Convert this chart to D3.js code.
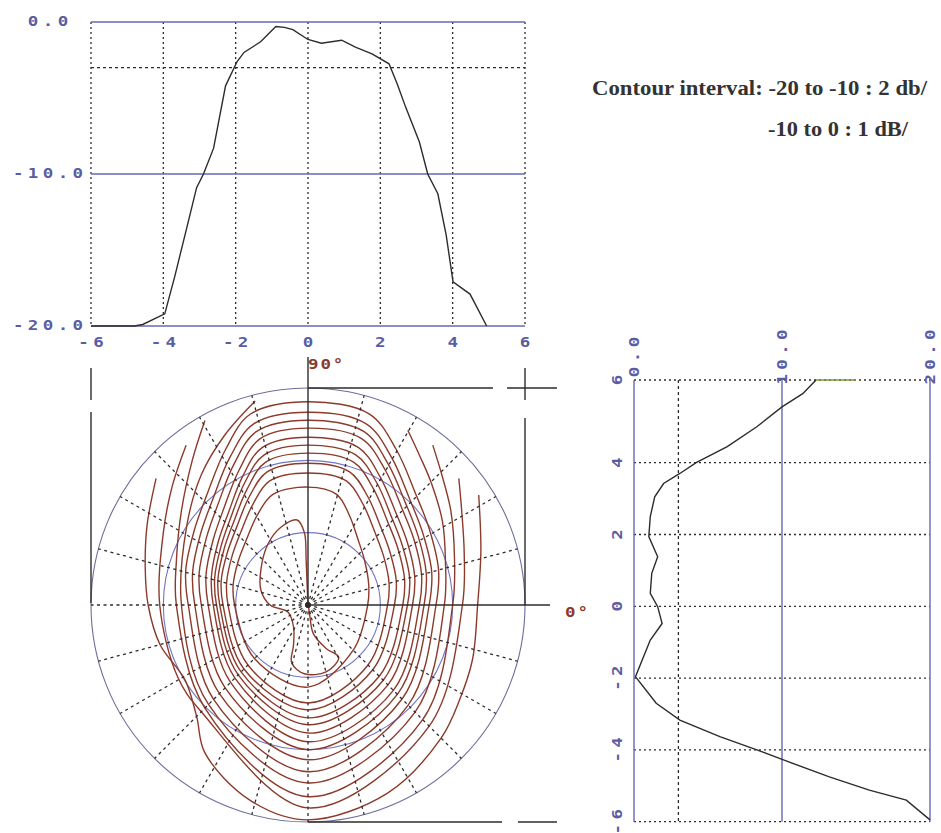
<!DOCTYPE html>
<html>
<head>
<meta charset="utf-8">
<script src="https://cdn.jsdelivr.net/npm/d3@7"></script>
<style>
  body { margin: 0; background: #fff; }
  svg { display: block; }
</style>
</head>
<body>
<svg id="chart" width="941" height="833"></svg>
<script>
// ---- Horizontal cut (top panel): offset vs relative level, dB ----
const hCutX  = [-6, -4.80, -4.57, -3.96, -3.68, -3.40, -3.08, -2.89, -2.61, -2.28, -1.96, -1.77, -1.31, -0.89, -0.65, -0.42, 0, 0.37, 0.93, 1.31, 1.77, 2.24, 2.47, 2.70, 3.08, 3.31, 3.59, 3.82, 4.01, 4.48, 4.94];
const hCutDb = [-20, -20, -19.9, -19.2, -16.7, -14.0, -10.9, -10.0, -8.3, -4.2, -2.6, -2.0, -1.3, -0.3, -0.35, -0.5, -1.15, -1.4, -1.2, -1.65, -2.1, -2.75, -4.1, -5.6, -7.9, -10.0, -11.3, -14.0, -17.1, -17.9, -20];
const hTicks = [-6, -4, -2, 0, 2, 4, 6];
const hDbTicks = [0, -10, -20];

// ---- Vertical cut (right panel): offset vs attenuation, dB ----
const vCutPos = [6, 6, 5.67, 5.35, 4.87, 4.39, 4.0, 3.70, 3.42, 3.05, 2.50, 1.94, 1.38, 0.92, 0.36, -0.01, -0.48, -0.94, -1.96, -2.70, -3.17, -3.63, -4.0, -4.28, -4.75, -5.12, -5.40, -5.95];
const vCutAtt = [15.0, 12.3, 11.4, 10.0, 8.3, 6.3, 4.2, 3.1, 2.0, 1.4, 1.1, 1.0, 1.6, 1.2, 1.1, 1.6, 1.9, 1.1, 0.1, 1.5, 3.1, 5.8, 8.3, 10.1, 13.2, 15.9, 18.4, 20.0];
const vPosTicks = [6, 4, 2, 0, -2, -4, -6];
const vAttTicks = [0, 10, 20];

// ---- Contour map: level (dB) and traced outline points [x, y] ----
const contourLevels = [-1, -2, -3, -4, -5, -6, -7, -8, -9, -10, -12, -14, -16, -18, -20];
const contourClosed = [true, true, true, true, true, true, true, true, true, true, true, false, false, false, false];
const contourPoints = [
  [[0.0,0.1],[-0.05,1.2],[-0.1,2.0],[-0.3,2.35],[-0.75,2.15],[-1.1,1.7],[-1.3,1.0],[-1.3,0.4],[-1.05,0.0],[-0.55,-0.2],[-0.4,-0.6],[-0.4,-1.1],[-0.45,-1.6],[-0.1,-1.9],[0.5,-1.85],[0.85,-1.45],[0.5,-1.2],[0.15,-0.8],[0.05,-0.3]],
  [[1.65,0],[1.68,0.55],[1.57,1.21],[1.39,1.79],[1.14,2.49],[0.79,3.06],[0,3.26],[-0.97,3.06],[-1.40,2.49],[-1.71,1.79],[-1.93,1.21],[-2.07,0.55],[-2.03,0],[-1.48,-1.48],[0,-2.27],[1.25,-1.25]],
  [[2.20,0],[2.24,0.62],[2.09,1.35],[1.85,2.01],[1.52,2.79],[1.06,3.43],[0,3.65],[-1.06,3.43],[-1.52,2.79],[-1.86,2.01],[-2.10,1.35],[-2.25,0.62],[-2.21,0],[-1.66,-1.66],[0,-2.71],[1.66,-1.66]],
  [[2.39,0],[2.44,0.67],[2.27,1.45],[2.01,2.16],[1.65,3.00],[1.15,3.68],[0,3.92],[-1.13,3.68],[-1.62,3.00],[-1.97,2.16],[-2.23,1.45],[-2.40,0.67],[-2.35,0],[-1.77,-1.77],[0,-2.90],[1.79,-1.79]],
  [[2.62,0],[2.67,0.71],[2.49,1.55],[2.20,2.31],[1.81,3.21],[1.26,3.95],[0,4.20],[-1.17,3.95],[-1.68,3.21],[-2.05,2.31],[-2.32,1.55],[-2.49,0.71],[-2.44,0],[-1.85,-1.85],[0,-3.12],[1.97,-1.97]],
  [[2.75,0],[2.81,0.75],[2.61,1.64],[2.31,2.43],[1.90,3.38],[1.32,4.15],[0,4.42],[-1.21,4.15],[-1.75,3.38],[-2.13,2.43],[-2.40,1.64],[-2.58,0.75],[-2.53,0],[-1.93,-1.93],[0,-3.31],[2.08,-2.08]],
  [[2.89,0],[2.95,0.79],[2.75,1.72],[2.43,2.55],[1.99,3.55],[1.39,4.36],[0,4.64],[-1.26,4.36],[-1.81,3.55],[-2.20,2.55],[-2.49,1.72],[-2.67,0.79],[-2.62,0],[-2.02,-2.02],[0,-3.54],[2.21,-2.21]],
  [[3.08,0],[3.14,0.83],[2.93,1.81],[2.59,2.69],[2.13,3.74],[1.48,4.60],[0,4.89],[-1.32,4.60],[-1.90,3.74],[-2.32,2.69],[-2.62,1.81],[-2.82,0.83],[-2.76,0],[-2.14,-2.14],[0,-3.78],[2.36,-2.36]],
  [[3.21,0],[3.27,0.87],[3.05,1.89],[2.70,2.81],[2.21,3.91],[1.54,4.80],[0,5.11],[-1.42,4.80],[-2.04,3.91],[-2.48,2.81],[-2.80,1.89],[-3.01,0.87],[-2.95,0],[-2.29,-2.29],[0,-4.00],[2.47,-2.47]],
  [[3.35,0],[3.42,0.91],[3.18,1.97],[2.81,2.93],[2.31,4.08],[1.61,5.01],[0,5.33],[-1.50,5.01],[-2.16,4.08],[-2.63,2.93],[-2.97,1.97],[-3.19,0.91],[-3.13,0],[-2.45,-2.45],[0,-4.28],[2.60,-2.60]],
  [[3.54,0],[3.61,0.96],[3.36,2.08],[2.97,3.09],[2.44,4.30],[1.70,5.28],[0,5.62],[-1.59,5.28],[-2.28,4.30],[-2.78,3.09],[-3.14,2.08],[-3.38,0.96],[-3.31,0],[-2.61,-2.61],[0,-4.61],[2.77,-2.77]],
  [[-1.46,5.64],[-2.3,4.7],[-2.95,3.6],[-3.35,2.2],[-3.50,0],[-2.75,-2.75],[0,-4.92],[2.96,-2.96],[3.77,0],[3.8,1.2],[3.72,2.3],[3.4,3.4],[3.1,4.1],[2.76,4.83]],
  [[-2.85,5.1],[-3.2,4.0],[-3.5,2.6],[-3.64,1.2],[-3.64,0],[-2.85,-2.85],[0,-5.30],[3.17,-3.17],[4.0,0],[4.05,1.3],[3.95,2.6],[3.7,3.6],[3.45,4.42]],
  [[-3.37,4.42],[-3.75,3.3],[-4.0,2.0],[-4.10,0],[-3.6,-2.0],[-2.95,-2.95],[0,-5.61],[3.35,-3.35],[4.27,0],[4.32,1.4],[4.25,2.6],[4.17,3.5]],
  [[-4.2,3.5],[-4.45,2.2],[-4.5,1.0],[-4.42,0],[-4.09,-1.1],[-3.4,-2.07],[-3.08,-3.08],[-2.85,-4.09],[-1.6,-5.4],[0,-5.94],[2.2,-5.2],[3.68,-3.68],[4.2,-2.6],[4.55,-1.5],[4.69,0],[4.78,1.5],[4.72,3.04]]
];
const polarRings = [2, 4, 6];
const spokeAngles = d3.range(0, 360, 15).filter(a => a !== 0 && a !== 90);

// ---- Styling ----
const BLUE = "#6668b2", LABEL = "#5a5ca4", INK = "#2f2b2b", BROWN = "#8c3a2b", OLIVE = "#7a9a3a";
const LS = 3.5;      // letter spacing of the axis font
const STRETCH = 1.25; // horizontal widening of the axis font

const svg = d3.select("#chart");

function monoLabel(g, x, y, txt, rotate, color) {
  return g.append("text")
    .attr("transform", `translate(${x},${y})` + (rotate ? " rotate(-90)" : "") + ` scale(${STRETCH},1)`)
    .attr("text-anchor", "middle")
    .attr("dominant-baseline", "central")
    .attr("dx", LS / 2)
    .style("font-family", "'DejaVu Sans Mono', monospace")
    .style("font-weight", "bold")
    .style("font-size", "14px")
    .style("letter-spacing", LS + "px")
    .attr("fill", color || LABEL)
    .text(txt);
}

// ================= Top panel =================
const xT = d3.scaleLinear().domain([-6, 6]).range([91, 525]);
const yT = d3.scaleLinear().domain([-20, 0]).range([326, 22]);
const gTop = svg.append("g");

gTop.selectAll("line.vgrid").data(hTicks).join("line")
  .attr("x1", d => xT(d)).attr("x2", d => xT(d))
  .attr("y1", yT(0)).attr("y2", yT(-20))
  .attr("stroke", INK).attr("stroke-width", 1.3).attr("stroke-dasharray", "2,3");
gTop.append("line")
  .attr("x1", xT(-6)).attr("x2", xT(6)).attr("y1", yT(-3)).attr("y2", yT(-3))
  .attr("stroke", INK).attr("stroke-width", 1.3).attr("stroke-dasharray", "3,3");
gTop.selectAll("line.hgrid").data(hDbTicks).join("line")
  .attr("x1", xT(-6)).attr("x2", xT(6))
  .attr("y1", d => yT(d)).attr("y2", d => yT(d))
  .attr("stroke", BLUE).attr("stroke-width", 1.4);

gTop.append("path")
  .datum(d3.zip(hCutX, hCutDb))
  .attr("d", d3.line().x(d => xT(d[0])).y(d => yT(d[1])))
  .attr("fill", "none").attr("stroke", INK).attr("stroke-width", 1.4);

hDbTicks.forEach(v => monoLabel(gTop, 48, yT(v) - 1, v.toFixed(1)));
hTicks.forEach(v => monoLabel(gTop, xT(v), 342, String(v)));

// ================= Polar contour panel =================
const xP = d3.scaleLinear().domain([-6, 6]).range([91, 525]);
const yP = d3.scaleLinear().domain([-6, 6]).range([822, 388]);
const rP = d3.scaleLinear().domain([0, 6]).range([0, xP(6) - xP(0)]);
const cx = xP(0), cy = yP(0);
const gPol = svg.append("g");

svg.append("clipPath").attr("id", "disc")
  .append("circle").attr("cx", cx).attr("cy", cy).attr("r", rP(6));

gPol.selectAll("circle.ring").data(polarRings).join("circle")
  .attr("cx", cx).attr("cy", cy).attr("r", d => rP(d))
  .attr("fill", "none").attr("stroke", d => d === 6 ? "#6d6d9e" : "#7476c4")
  .attr("stroke-width", 1.1);

const contourLine = d3.line().x(d => xP(d[0])).y(d => yP(d[1]));
gPol.append("g").attr("clip-path", "url(#disc)")
  .selectAll("path").data(contourPoints).join("path")
  .attr("d", (pts, i) => contourLine.curve(contourClosed[i] ? d3.curveCatmullRomClosed.alpha(0.5) : d3.curveCatmullRom.alpha(0.5))(pts))
  .attr("fill", "none").attr("stroke", BROWN).attr("stroke-width", 1.4);

gPol.selectAll("line.spoke").data(spokeAngles).join("line")
  .attr("x1", cx).attr("y1", cy)
  .attr("x2", a => cx + rP(6) * Math.cos(a * Math.PI / 180))
  .attr("y2", a => cy - rP(6) * Math.sin(a * Math.PI / 180))
  .attr("stroke", INK).attr("stroke-width", 1.3).attr("stroke-dasharray", "3,3.5");

// frame and axes of the map
const frame = [
  [cx, 357, cx, cy],            // 90° axis
  [cx, cy, 550, cy],            // 0° axis
  [cx, yP(6), 493, yP(6)],      // top edge
  [507, yP(6), 557, yP(6)],     // corner cross
  [xP(6), 368, xP(6), 400],
  [xP(6), 418, xP(6), cy],
  [xP(-6), 368, xP(-6), 400],
  [xP(-6), 412, xP(-6), 603],
  [cx, yP(-6), 502, yP(-6)],    // bottom edge
  [518, yP(-6), 557, yP(-6)]
];
gPol.selectAll("line.frame").data(frame).join("line")
  .attr("x1", d => d[0]).attr("y1", d => d[1]).attr("x2", d => d[2]).attr("y2", d => d[3])
  .attr("stroke", INK).attr("stroke-width", 1.4);

function brownLabel(x, y, txt) {
  gPol.append("text")
    .attr("transform", `translate(${x},${y}) scale(${STRETCH},1)`)
    .style("font-family", "'DejaVu Sans Mono', monospace").style("font-weight", "bold")
    .style("font-size", "14px").style("letter-spacing", "1.5px")
    .attr("fill", BROWN).text(txt);
}
brownLabel(cx, 369, "90°");
brownLabel(565, 617, "0°");

// ================= Right panel (vertical cut) =================
const xR = d3.scaleLinear().domain([0, 20]).range([634, 930]);
const yR = d3.scaleLinear().domain([6, 4, -6]).range([380, 462.7, 821.7]);
const gR = svg.append("g");

gR.selectAll("line.hg").data(vPosTicks).join("line")
  .attr("x1", xR(0)).attr("x2", xR(20))
  .attr("y1", d => yR(d)).attr("y2", d => yR(d))
  .attr("stroke", INK).attr("stroke-width", 1.3).attr("stroke-dasharray", "2,3");
gR.append("line")
  .attr("x1", xR(3)).attr("x2", xR(3)).attr("y1", yR(6)).attr("y2", yR(-6))
  .attr("stroke", INK).attr("stroke-width", 1.3).attr("stroke-dasharray", "3,3");
gR.selectAll("line.vg").data(vAttTicks).join("line")
  .attr("x1", d => xR(d)).attr("x2", d => xR(d))
  .attr("y1", yR(6)).attr("y2", yR(-6))
  .attr("stroke", BLUE).attr("stroke-width", 1.4);

const vLine = d3.line().x(d => xR(d[0])).y(d => yR(d[1]));
const vPts = d3.zip(vCutAtt, vCutPos);
gR.append("path").datum(vPts.slice(1)).attr("d", vLine)
  .attr("fill", "none").attr("stroke", INK).attr("stroke-width", 1.4);
gR.append("path").datum(vPts.slice(0, 2)).attr("d", vLine)
  .attr("fill", "none").attr("stroke", OLIVE).attr("stroke-width", 1.6);

vAttTicks.forEach(v => monoLabel(gR, xR(v), 357, v.toFixed(1), true));
vPosTicks.forEach(v => monoLabel(gR, 617, yR(v), String(v), true));

// ================= Note =================
const note = svg.append("g")
  .style("font-family", "'Liberation Serif', 'Times New Roman', serif")
  .style("font-weight", "bold").style("font-size", "20px")
  .attr("fill", "#333");
note.append("text").attr("x", 592).attr("y", 95)
  .attr("textLength", 335).attr("lengthAdjust", "spacingAndGlyphs")
  .text("Contour interval:  -20 to -10 : 2 db/");
note.append("text").attr("x", 768).attr("y", 136)
  .attr("textLength", 140).attr("lengthAdjust", "spacingAndGlyphs")
  .text("-10 to 0 : 1 dB/");
</script>
</body>
</html>
